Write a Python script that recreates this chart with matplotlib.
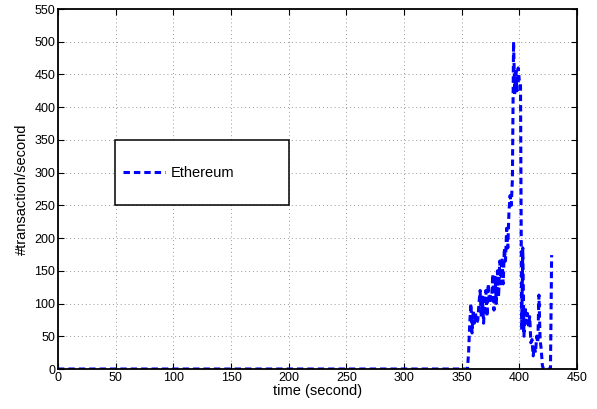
import matplotlib
matplotlib.use("Agg")
import matplotlib.pyplot as plt
from matplotlib.patches import Rectangle
import numpy as np

# the chain is idle (0 tx/s) for the first 355 seconds, then the burst
idle_values = [0] * 355
burst_values = [0, 25, 70, 100, 55, 90, 70, 85, 70, 75,
                100, 120, 80, 110, 70, 105, 120, 80, 130, 100,
                115, 105, 145, 90, 140, 100, 150, 110, 165, 130,
                170, 130, 185, 165, 215, 185, 240, 265, 250, 290,
                500, 420, 455, 425, 460, 440, 440, 60, 185, 50,
                95, 70, 85, 65, 80, 40, 45, 20, 35, 25,
                50, 40, 113, 45, 30, 5, 0, 0, 0, 0,
                0, 0, 0, 174]
series_name = "Ethereum"
x_ticks = [0, 50, 100, 150, 200, 250, 300, 350, 400, 450]
y_ticks = [0, 50, 100, 150, 200, 250, 300, 350, 400, 450, 500, 550]

tps = np.array(idle_values + burst_values)
t = np.arange(len(tps))

plt.rcParams['font.family'] = ['Liberation Sans', 'DejaVu Sans']

fig = plt.figure(figsize=(5.97, 4.09), dpi=100)
ax = fig.add_axes([58/597, 40/409, 519/597, 360/409])

ax.plot(t, tps, color='#0000ff', linestyle=(0, (2.1, 1.3)), lw=2.2, label=series_name)

ax.set_xlim(0, 450)
ax.set_ylim(0, 550)
ax.set_xticks(x_ticks)
ax.set_yticks(y_ticks)
ax.tick_params(direction='in', length=4, width=0.8, labelsize=9,
               top=True, right=True, pad=2)
for s in ax.spines.values():
    s.set_linewidth(1.3)
ax.grid(True, linestyle=(0, (1, 3)), color='#999999', lw=0.7)

ax.set_xlabel('time (second)', fontsize=10.5, labelpad=0)
ax.set_ylabel('#transaction/second', fontsize=10.5, labelpad=4)

# legend box drawn by hand (MATLAB style square frame)
ax.add_patch(Rectangle((0.1098, 0.4556), 0.335, 0.1806, transform=ax.transAxes,
                       facecolor='white', edgecolor='black', lw=1.1, zorder=4))
leg = ax.legend(loc='center left', bbox_to_anchor=(0.125, 0.544),
                fontsize=10.5, handlelength=2.9, handletextpad=0.4,
                borderpad=0, borderaxespad=0, frameon=False)
leg.set_zorder(5)

fig.savefig('out.png', dpi=100)
